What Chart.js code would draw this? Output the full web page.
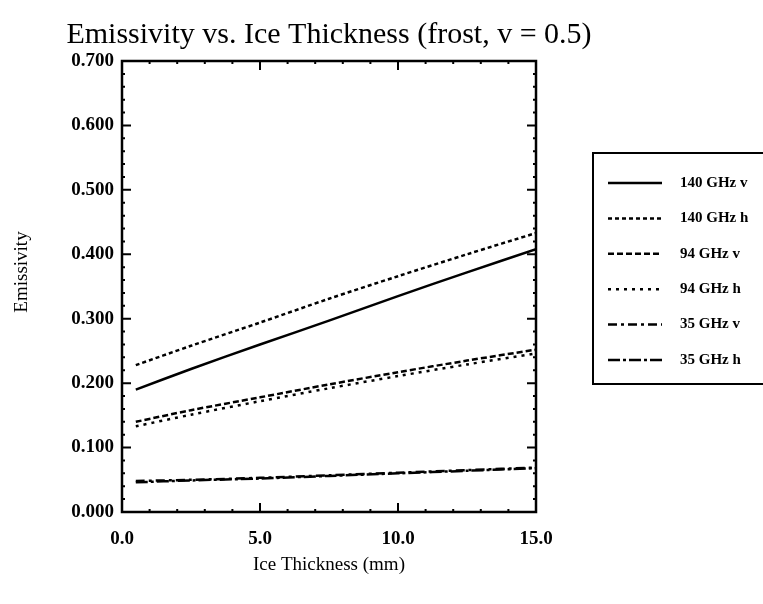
<!DOCTYPE html>
<html>
<head>
<meta charset="utf-8">
<script src="https://cdn.jsdelivr.net/npm/chart.js@4.4.1/dist/chart.umd.min.js"></script>
<style>
  html, body { margin: 0; padding: 0; background: #fff; }
  canvas { display: block; }
</style>
</head>
<body>
<canvas id="chart" width="763" height="604"></canvas>
<script>
// Ice thickness (mm) sample points
const thickness = [0.5, 2.5, 5, 7.5, 10, 12.5, 15];

// Emissivity
const ghz140v = [0.190, 0.222, 0.260, 0.297, 0.335, 0.372, 0.408];
const ghz140h = [0.228, 0.258, 0.294, 0.331, 0.366, 0.400, 0.433];
const ghz94v  = [0.140, 0.158, 0.178, 0.198, 0.217, 0.235, 0.252];
const ghz94h  = [0.133, 0.151, 0.172, 0.192, 0.211, 0.229, 0.246];
const ghz35v  = [0.048, 0.050, 0.053, 0.057, 0.061, 0.065, 0.069];
const ghz35h  = [0.046, 0.049, 0.052, 0.056, 0.060, 0.064, 0.068];

const seriesLabels = ['140 GHz v', '140 GHz h', '94 GHz v', '94 GHz h', '35 GHz v', '35 GHz h'];
const seriesValues = [ghz140v, ghz140h, ghz94v, ghz94h, ghz35v, ghz35h];
const dashes = [[], [4, 3], [6, 3], [3, 5], [9, 4, 3, 4], [12, 3, 3, 3]];

const TITLE = 'Emissivity vs. Ice Thickness (frost, v = 0.5)';
const Y_TITLE = 'Emissivity';
const FONT = '"Liberation Serif", "Times New Roman", serif';

const datasets = seriesValues.map((vals, i) => ({
  label: seriesLabels[i],
  data: vals.map((v, j) => ({ x: thickness[j], y: v })),
  borderColor: '#000',
  borderWidth: 2.5,
  borderDash: dashes[i],
  pointRadius: 0,
  fill: false,
  tension: 0.3
}));

// chart title and the y axis title
const textPlugin = {
  id: 'texts',
  afterDraw(chart) {
    const { ctx, chartArea: a } = chart;
    ctx.save();
    ctx.fillStyle = '#000';
    ctx.textAlign = 'center';
    ctx.textBaseline = 'alphabetic';
    ctx.font = '30px ' + FONT;
    ctx.fillText(TITLE, (a.left + a.right) / 2, 43);
    ctx.translate(22, 272);
    ctx.rotate(-Math.PI / 2);
    ctx.textBaseline = 'middle';
    ctx.font = '19px ' + FONT;
    ctx.fillText(Y_TITLE, 0, 0);
    ctx.restore();
  }
};

// frame with inward major/minor ticks on all four sides
const framePlugin = {
  id: 'frame',
  afterDatasetsDraw(chart) {
    const { ctx, chartArea: a, scales: { x, y } } = chart;
    ctx.save();
    ctx.strokeStyle = '#000';
    ctx.setLineDash([]);
    ctx.lineWidth = 2.5;
    ctx.strokeRect(a.left, a.top, a.right - a.left, a.bottom - a.top);
    ctx.lineWidth = 2;
    for (let i = 0; i <= 35; i++) {
      const py = y.getPixelForValue(i * 0.02);
      const len = i % 5 === 0 ? 9 : 3;
      ctx.beginPath();
      ctx.moveTo(a.left, py); ctx.lineTo(a.left + len, py);
      ctx.moveTo(a.right, py); ctx.lineTo(a.right - len, py);
      ctx.stroke();
    }
    for (let i = 0; i <= 15; i++) {
      const px = x.getPixelForValue(i);
      const len = i % 5 === 0 ? 9 : 3;
      ctx.beginPath();
      ctx.moveTo(px, a.bottom); ctx.lineTo(px, a.bottom - len);
      ctx.moveTo(px, a.top); ctx.lineTo(px, a.top + len);
      ctx.stroke();
    }
    ctx.restore();
  }
};

// boxed legend to the right of the plot
const legendPlugin = {
  id: 'boxLegend',
  afterDraw(chart) {
    const { ctx } = chart;
    ctx.save();
    ctx.strokeStyle = '#000';
    ctx.lineWidth = 2;
    ctx.setLineDash([]);
    ctx.strokeRect(593, 153, 180, 231);
    ctx.font = 'bold 15px ' + FONT;
    ctx.fillStyle = '#000';
    ctx.textBaseline = 'middle';
    chart.data.datasets.forEach((ds, i) => {
      const ly = 183 + i * 35.4;
      ctx.lineWidth = ds.borderWidth;
      ctx.setLineDash(ds.borderDash);
      ctx.beginPath();
      ctx.moveTo(608, ly);
      ctx.lineTo(662, ly);
      ctx.stroke();
      ctx.fillText(ds.label, 680, ly);
    });
    ctx.restore();
  }
};

new Chart(document.getElementById('chart'), {
  type: 'line',
  data: { datasets },
  options: {
    responsive: false,
    animation: false,
    devicePixelRatio: 1,
    layout: { padding: { left: 0, right: 227, top: 61, bottom: 0 } },
    plugins: {
      legend: { display: false },
      tooltip: { enabled: false },
      title: { display: false }
    },
    scales: {
      x: {
        type: 'linear',
        min: 0,
        max: 15,
        afterFit(scale) { scale.height = 92; },
        grid: { display: false, drawTicks: false },
        border: { display: false },
        ticks: {
          stepSize: 5,
          maxRotation: 0,
          padding: 16,
          color: '#000',
          font: { family: FONT, size: 19, weight: 'bold' },
          callback: v => v.toFixed(1)
        },
        title: {
          display: true,
          text: 'Ice Thickness (mm)',
          color: '#000',
          font: { family: FONT, size: 19 },
          padding: { top: 0, bottom: 28 }
        }
      },
      y: {
        min: 0,
        max: 0.7,
        afterFit(scale) { scale.width = 122; },
        grid: { display: false, drawTicks: false },
        border: { display: false },
        ticks: {
          stepSize: 0.1,
          padding: 8,
          color: '#000',
          font: { family: FONT, size: 19, weight: 'bold' },
          callback: v => v.toFixed(3)
        }
      }
    }
  },
  plugins: [framePlugin, legendPlugin, textPlugin]
});
</script>
</body>
</html>
